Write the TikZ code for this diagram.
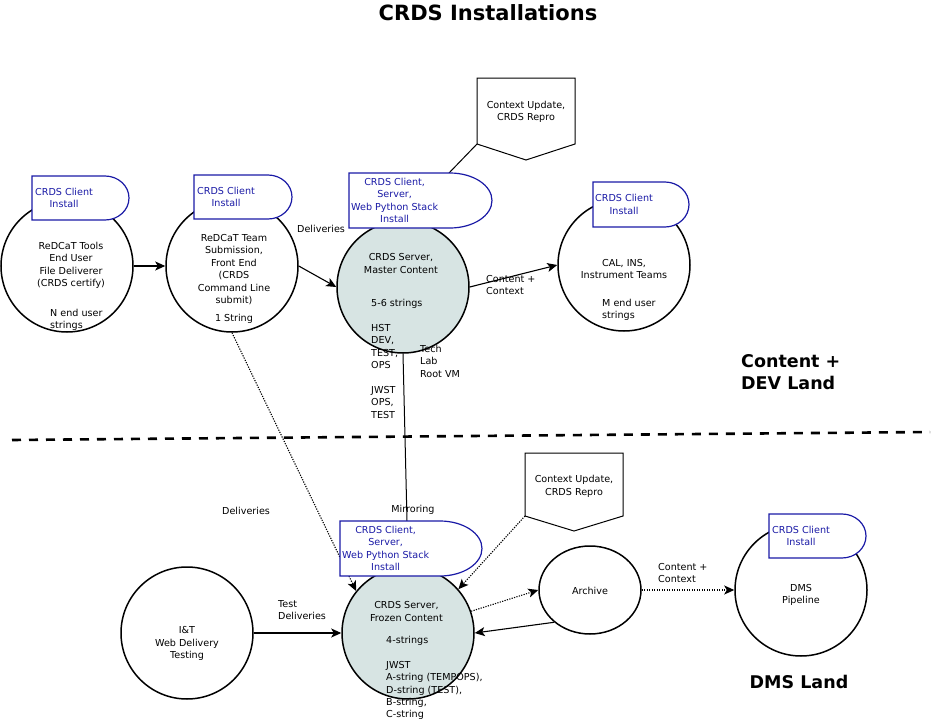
\documentclass[tikz,border=0pt]{standalone}
\usepackage{fontspec}
\setmainfont{DejaVu Sans}
\usepackage{xcolor}
\usepackage{tikz}
\usetikzlibrary{positioning,arrows.meta,shapes.geometric,calc}
\definecolor{cazul}{HTML}{1A1AA6}
\definecolor{cserv}{HTML}{D7E4E3}
\tikzset{
  lugar/.style={circle, draw, line width=1.5pt, minimum size=132pt, inner sep=0pt},
  servidor/.style={lugar, fill=cserv},
  borde/.style={draw=cazul, fill=white, line width=1.2pt},
  etqazul/.style={font=\fontsize{9.6}{12.4}\selectfont, text=cazul, align=center, inner sep=0pt},
  etq/.style={font=\fontsize{9.6}{12.4}\selectfont, align=center, inner sep=0pt},
  etqi/.style={etq, align=left, anchor=north west},
  zona/.style={font=\bfseries\fontsize{17.5}{22}\selectfont, align=left, inner sep=0pt},
  flecha/.style={-{Stealth[length=10pt,width=9pt,inset=2.5pt]}, line width=1.1pt},
  punteada/.style={flecha, dash pattern=on 1.2pt off 1.3pt},
  linea/.style={line width=1pt},
  caja/.style={draw, line width=1pt},
}
% etiqueta de instalacion: nombre, x, y, ancho, alto, radio, x del texto, texto
\newcommand{\instala}[8]{%
  \filldraw[borde] (#2,#3) -- ++(#4-#6,0)
    arc[start angle=90, end angle=-90, x radius=#6pt, y radius=#5pt/2]
    -- (#2,#3+#5) -- cycle;
  \node[etqazul, anchor=west] (#1) at (#7,#3+#5/2) {#8};
}

\begin{document}
\begin{tikzpicture}[x=1pt, y=-1pt]
  \useasboundingbox (0,0) rectangle (938,720);
  \node[font=\bfseries\fontsize{21}{24}\selectfont] (titulo) at (488,13) {CRDS Installations};

  % lado de desarrollo
  \node[lugar] (redt) at (67,266) {};
  \node[lugar] (redf) at (232,266) {};
  \node[servidor] (master) at (403,287) {};
  \node[lugar] (cal) at (624,265) {};

  \node[etq] (redttx) at (71,265.5) {ReDCaT Tools\\End User\\File Deliverer\\(CRDS certify)};
  \node[etqi] (redtn) at (50,309) {N end user\\strings};
  \node[etq] (redftx) at (234,269.5) {ReDCaT Team\\Submission,\\Front End\\(CRDS\\Command Line\\submit)};
  \node[etq] (redfs) at (234,318.5) {1 String};
  \node[etq] (mastertx) at (401,263.5) {CRDS Server,\\Master Content};
  \node[etqi] (masters) at (371,299) {5-6 strings};
  \node[etqi] (masterhst) at (371,324) {HST\\DEV,\\TEST,\\OPS};
  \node[etqi] (masterjw) at (371,386) {JWST\\OPS,\\TEST};
  \node[etqi] (techlab) at (420,345) {Tech\\Lab\\Root VM};
  \node[etq] (caltx) at (624,269) {CAL, INS,\\Instrument Teams};
  \node[etqi] (calm) at (602,299) {M end user\\strings};

  \draw[caja] (477,78) -- (575,78) -- (575,144) -- (526,160) -- (477,144) -- cycle;
  \coordinate (ctxpie) at (477,144);
  \node[etq] (ctxtx) at (526,112) {Context Update,\\CRDS Repro};

  \node[zona, anchor=north west] (devland) at (741,354) {Content +\\DEV Land};

  % frontera
  \draw[line width=2.6pt, dash pattern=on 9pt off 8pt] (12,440) -- (930,432);

  % lado DMS
  \node[lugar] (iyt) at (187,633) {};
  \node[servidor] (frozen) at (408,633) {};
  \node[ellipse, draw, line width=1.5pt, minimum width=102pt, minimum height=88pt, inner sep=0pt] (archivo) at (590,590) {};
  \node[lugar] (dms) at (801,590) {};

  \node[etq] (iyttx) at (187,643.5) {I\&T\\Web Delivery\\Testing};
  \node[etq] (frozentx) at (406.5,611.5) {CRDS Server,\\Frozen Content};
  \node[etqi] (frozens) at (386,636) {4-strings};
  \node[etqi] (frozenjw) at (386,661) {JWST\\A-string (TEMPOPS),\\D-string (TEST),\\B-string,\\C-string};
  \node[etq] (archivotx) at (590,590.5) {Archive};
  \node[etq] (dmstx) at (801,595) {DMS\\Pipeline};

  \draw[caja] (525,453) -- (623,453) -- (623,516) -- (574,531) -- (525,516) -- cycle;
  \coordinate (ctx2pie) at (525,516);
  \node[etq] (ctx2tx) at (574,486.5) {Context Update,\\CRDS Repro};

  \node[zona] (dmsland) at (799,682) {DMS Land};

  % conexiones
  \coordinate (tagmtop) at (449,173);
  \coordinate (tagftop) at (407,521);
  \draw[flecha] (redt) -- (redf);
  \draw[flecha] (redf.east) -- (master.west);
  \draw[flecha] (master.east) -- (cal.west);
  \draw[linea] (ctxpie) -- (tagmtop);
  \draw[linea] (master.south) -- (tagftop);
  \draw[punteada] (redf.south) -- (frozen.141);
  \draw[flecha] (iyt.east) -- (frozen.west);
  \draw[punteada] (ctx2pie) -- (frozen.41);
  \draw[punteada] (frozen.19) -- (archivo.west);
  \draw[flecha] (archivo.222) -- (frozen.east);
  \draw[punteada] (archivo.east) -- (dms.west);

  \node[etqi] (deliv1) at (297,225) {Deliveries};
  \node[etqi] (conten1) at (486,275) {Content +\\Context};
  \node[etqi] (deliv2) at (222,507) {Deliveries};
  \node[etqi] (testdel) at (278,600) {Test\\Deliveries};
  \node[etq] (mirror) at (413,509.5) {Mirroring};
  \node[etqi] (conten2) at (658,563) {Content +\\Context};

  % instalaciones
  \instala{tagredt}{32}{176}{97}{44}{24}{35}{CRDS Client\\Install}
  \instala{tagredf}{194}{175}{98}{44}{24}{197}{CRDS Client\\Install}
  \instala{tagmaster}{349}{173}{143}{55}{42}{351}{CRDS Client,\\Server,\\Web Python Stack\\Install}
  \instala{tagcal}{593}{182}{96}{45}{24}{595}{CRDS Client\\Install}
  \instala{tagfrozen}{340}{521}{142}{55}{42}{342}{CRDS Client,\\Server,\\Web Python Stack\\Install}
  \instala{tagdms}{769}{514}{97}{44}{24}{772}{CRDS Client\\Install}
\end{tikzpicture}
\end{document}
